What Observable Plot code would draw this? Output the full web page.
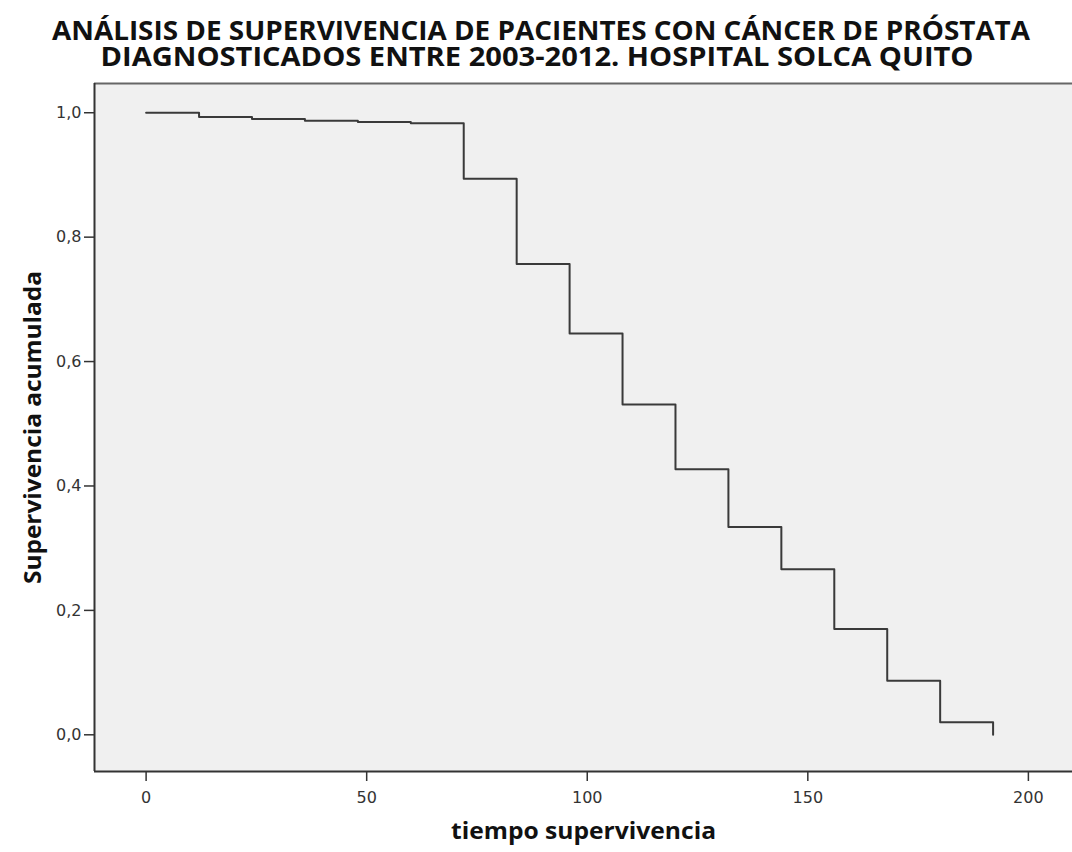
<!DOCTYPE html>
<html>
<head>
<meta charset="utf-8">
<script src="https://cdn.jsdelivr.net/npm/d3@7"></script>
<script src="https://cdn.jsdelivr.net/npm/@observablehq/plot@0.6"></script>
<style>
  body { margin: 0; background: #ffffff; }
  #chart { width: 1072px; height: 852px; overflow: hidden; }
  #chart svg { display: block; }
</style>
</head>
<body>
<div id="chart"></div>
<script>
// Kaplan-Meier estimate: survival time in months and cumulative survival
const titleLines = [
  "ANÁLISIS DE SUPERVIVENCIA DE PACIENTES CON CÁNCER DE PRÓSTATA",
  "DIAGNOSTICADOS ENTRE 2003-2012. HOSPITAL SOLCA QUITO"
];
const months   = [0, 12, 24, 36, 48, 60, 72, 84, 96, 108, 120, 132, 144, 156, 168, 180, 192];
const survival = [1.000, 0.993, 0.990, 0.987, 0.985, 0.983, 0.894, 0.757, 0.645, 0.531, 0.427, 0.334, 0.266, 0.170, 0.087, 0.020, 0.000];
const xTicks = [0, 50, 100, 150, 200];
const yTicks = [0, 0.2, 0.4, 0.6, 0.8, 1.0];
const xLabel = "tiempo supervivencia";
const yLabel = "Supervivencia acumulada";

const xDomain = [-11.7, 210];
const yDomain = [-0.059, 1.047];

const curve = months.map((m, i) => ({month: m, surv: survival[i]}));
const comma = d => d.toFixed(1).replace(".", ",");

const root = d3.select("#chart");

// Two-line title above the plot
const head = root.append("svg").attr("width", 1072).attr("height", 76);
const titleGeom = [
  {x: 541, y: 40, len: 978},
  {x: 537, y: 66, len: 873}
];
titleLines.forEach((t, i) => {
  head.append("text")
    .attr("x", titleGeom[i].x)
    .attr("y", titleGeom[i].y)
    .attr("text-anchor", "middle")
    .attr("font-family", "'Open Sans', sans-serif")
    .attr("font-weight", "bold")
    .attr("font-size", 27)
    .attr("fill", "#111")
    .attr("textLength", titleGeom[i].len)
    .attr("lengthAdjust", "spacingAndGlyphs")
    .text(t);
});

const plot = Plot.plot({
  width: 1072,
  height: 776,
  marginLeft: 94,
  marginRight: 0,
  marginTop: 7,
  marginBottom: 81,
  style: {fontFamily: "'DejaVu Sans', sans-serif", fontSize: "16px", color: "#333", background: "transparent", overflow: "visible"},
  x: {domain: xDomain},
  y: {domain: yDomain},
  marks: [
    Plot.frame({fill: "#f0f0f0", stroke: null}),
    Plot.ruleY([yDomain[1]], {stroke: "#666", strokeWidth: 2}),
    Plot.ruleY([yDomain[0]], {stroke: "#333", strokeWidth: 2}),
    Plot.ruleX([xDomain[0]], {stroke: "#333", strokeWidth: 2}),
    Plot.axisY(yTicks, {tickSize: 10, tickPadding: 3, tickFormat: comma, label: null, stroke: "#333", strokeWidth: 1.5}),
    Plot.axisX(xTicks, {tickSize: 10, tickPadding: 10, label: null, stroke: "#333", strokeWidth: 1.5}),
    Plot.line(curve, {x: "month", y: "surv", curve: "step-after", stroke: "#3a3a3a", strokeWidth: 2}),
    Plot.text([xLabel], {frameAnchor: "bottom", dy: 67, fontSize: 24, fontWeight: "bold", fill: "#111", fontFamily: "'Open Sans', sans-serif"}),
    Plot.text([yLabel], {frameAnchor: "left", dx: -61, rotate: -90, textAnchor: "middle", fontSize: 24, fontWeight: "bold", fill: "#111", fontFamily: "'Open Sans', sans-serif"})
  ]
});
root.node().appendChild(plot);

// Condense the axis titles to a narrow bold face
d3.select(plot).selectAll("text").each(function() {
  const s = d3.select(this);
  const t = this.textContent;
  if (t === xLabel) s.attr("textLength", 265).attr("lengthAdjust", "spacingAndGlyphs");
  if (t === yLabel) s.attr("textLength", 313).attr("lengthAdjust", "spacingAndGlyphs");
});
</script>
</body>
</html>
